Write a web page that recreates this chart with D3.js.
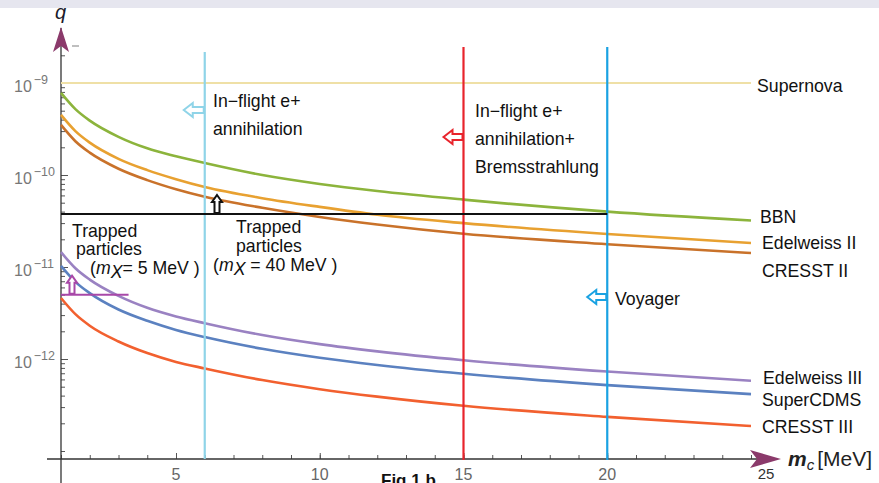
<!DOCTYPE html>
<html>
<head>
<meta charset="utf-8">
<script src="https://cdn.jsdelivr.net/npm/d3@7"></script>
<style>
  body { margin: 0; background: #fff; }
  svg { display: block; }
  text { font-family: "Liberation Sans", Arial, sans-serif; }
</style>
</head>
<body>
<svg id="chart" width="879" height="483"></svg>
<script>
const masses = [1, 1.5, 2, 3, 4, 5, 6, 8, 10, 12, 15, 20, 25];

// q limits per experiment
const bbn         = [7.8e-10, 5.2e-10, 3.9e-10, 2.6e-10, 1.95e-10, 1.6e-10, 1.35e-10, 1.0e-10, 8.0e-11, 6.7e-11, 5.4e-11, 4.0e-11, 3.2e-11];
const edelweiss2  = [4.5e-10, 3.0e-10, 2.25e-10, 1.5e-10, 1.13e-10, 9.0e-11, 7.4e-11, 5.6e-11, 4.5e-11, 3.7e-11, 3.0e-11, 2.28e-11, 1.82e-11];
const cresst2     = [3.5e-10, 2.33e-10, 1.75e-10, 1.17e-10, 8.8e-11, 7.0e-11, 5.8e-11, 4.4e-11, 3.5e-11, 2.9e-11, 2.3e-11, 1.77e-11, 1.42e-11];
const edelweiss3  = [1.45e-11, 9.7e-12, 7.3e-12, 4.85e-12, 3.6e-12, 2.9e-12, 2.45e-12, 1.82e-12, 1.45e-12, 1.21e-12, 9.7e-13, 7.3e-13, 5.8e-13];
const superCDMS   = [1.03e-11, 6.9e-12, 5.2e-12, 3.45e-12, 2.6e-12, 2.07e-12, 1.73e-12, 1.29e-12, 1.03e-12, 8.6e-13, 6.9e-13, 5.2e-13, 4.15e-13];
const cresst3     = [4.6e-12, 3.07e-12, 2.3e-12, 1.55e-12, 1.16e-12, 9.3e-13, 7.9e-13, 5.9e-13, 4.7e-13, 3.9e-13, 3.1e-13, 2.35e-13, 1.87e-13];

// horizontal / vertical constraints
const supernovaQ = 1e-9;
const trapped40Q = 3.77e-11;   // up to m = 20
const trapped40MaxM = 20;
const trapped5Q = 5.0e-12;     // short line
const trapped5MaxM = 3.35;
const inflightM = 6;
const bremsM = 15;
const voyagerM = 20;

// ticks
const xMajorTicks = [5, 10, 15, 20];
const xMinorTicks = d3.range(1, 26);
const yDecades = [-9, -10, -11, -12];

const svg = d3.select("#chart");

// header band
svg.append("rect").attr("x", 0).attr("y", 0).attr("width", 879).attr("height", 8).attr("fill", "#e6e6ef");

const x = d3.scaleLinear().domain([1, 25]).range([61, 751]);
const y = d3.scaleLog().domain([1e-9, 1e-12]).range([83, 359]);
const axisY = 459;
const axisX = x(1);

// ---- axes ----
const yMinor = [];
[-9, -10, -11, -12, -13].forEach(e => {
  for (let k = 1; k < 10; k++) {
    const v = k * Math.pow(10, e);
    if (y(v) > 30 && y(v) < axisY - 2) yMinor.push(v);
  }
});

svg.append("g")
  .attr("transform", `translate(${axisX},0)`)
  .call(d3.axisRight(y).tickValues(yMinor).tickSize(4).tickFormat(""))
  .call(g => g.select(".domain").remove())
  .call(g => g.selectAll("line").attr("stroke", "#555"));
svg.append("g")
  .attr("transform", `translate(${axisX},0)`)
  .call(d3.axisRight(y).tickValues(yDecades.map(e => Math.pow(10, e))).tickSize(7).tickFormat(""))
  .call(g => g.select(".domain").remove())
  .call(g => g.selectAll("line").attr("stroke", "#555"));

svg.append("g")
  .attr("transform", `translate(0,${axisY})`)
  .call(d3.axisTop(x).tickValues(xMinorTicks).tickSize(4).tickFormat(""))
  .call(g => g.select(".domain").remove())
  .call(g => g.selectAll("line").attr("stroke", "#555"));
svg.append("g")
  .attr("transform", `translate(0,${axisY})`)
  .call(d3.axisTop(x).tickValues(xMajorTicks).tickSize(6).tickFormat(""))
  .call(g => g.select(".domain").remove())
  .call(g => g.selectAll("line").attr("stroke", "#555"));

// axis lines
svg.append("line").attr("x1", axisX).attr("x2", axisX).attr("y1", 28).attr("y2", 483)
  .attr("stroke", "#333").attr("stroke-width", 1.3);
svg.append("line").attr("x1", 47).attr("x2", 770).attr("y1", axisY).attr("y2", axisY)
  .attr("stroke", "#333").attr("stroke-width", 1.3);

// x tick labels
svg.append("g").selectAll("text").data(xMajorTicks).join("text")
  .attr("x", d => x(d)).attr("y", 480)
  .attr("text-anchor", "middle").attr("font-size", 16).attr("fill", "#666")
  .text(d => d);
svg.append("text").attr("x", 766).attr("y", 479).attr("text-anchor", "middle")
  .attr("font-family", "Liberation Serif, serif").attr("font-size", 15).attr("fill", "#333")
  .text("25");

// y tick labels
const yl = svg.append("g").selectAll("text").data(yDecades).join("text")
  .attr("x", 14).attr("y", d => y(Math.pow(10, d)) + 9)
  .attr("font-size", 16).attr("fill", "#777");
yl.append("tspan").text("10");
yl.append("tspan").attr("dx", 2).attr("dy", -8).attr("font-size", 12.5).text(d => "\u2212" + (-d));

// axis arrows
svg.append("path").attr("d", `M${axisX},27 L${axisX + 8},52 L${axisX},46 L${axisX - 8},52 Z`).attr("fill", "#8b3a6b");
svg.append("path").attr("d", "M781,459 L750,450 L757,459 L750,468 Z").attr("fill", "#8b3a6b");
svg.append("line").attr("x1", 72).attr("x2", 79).attr("y1", 46).attr("y2", 46).attr("stroke", "#aaa").attr("stroke-width", 1.5);

// axis titles
svg.append("text").attr("x", 55).attr("y", 19)
  .attr("font-family", "Liberation Serif, serif").attr("font-style", "italic").attr("font-size", 20).attr("fill", "#1a1a2a")
  .text("q");
const xt = svg.append("text").attr("x", 788).attr("y", 466)
  .attr("font-family", "Liberation Serif, serif").attr("font-size", 21).attr("fill", "#222");
xt.append("tspan").attr("font-style", "italic").attr("font-weight", "bold").text("m");
xt.append("tspan").attr("font-style", "italic").attr("font-size", 15).attr("dy", 4).text("c");
xt.append("tspan").attr("dy", -4).attr("dx", 3).text("[MeV]");

// ---- constraint lines ----
const line = d3.line().x(d => x(d[0])).y(d => y(d[1])).curve(d3.curveMonotoneX);

svg.append("line").attr("x1", x(1)).attr("x2", x(25)).attr("y1", y(supernovaQ)).attr("y2", y(supernovaQ))
  .attr("stroke", "#efe0a6").attr("stroke-width", 2.2);

const series = [
  { name: "BBN", values: bbn, color: "#8cb43c", ly: 223, lx: 760 },
  { name: "Edelweiss II", values: edelweiss2, color: "#e8a131", ly: 249, lx: 762 },
  { name: "CRESST II", values: cresst2, color: "#c9722a", ly: 277, lx: 762 },
  { name: "Edelweiss III", values: edelweiss3, color: "#9a82c2", ly: 384, lx: 763 },
  { name: "SuperCDMS", values: superCDMS, color: "#5b81c0", ly: 406, lx: 762 },
  { name: "CRESST III", values: cresst3, color: "#f2602f", ly: 433, lx: 762 }
];

svg.append("g").selectAll("path").data(series).join("path")
  .attr("d", s => line(masses.map((m, i) => [m, s.values[i]])))
  .attr("fill", "none").attr("stroke", s => s.color).attr("stroke-width", 2.6);

// vertical bounds
svg.append("line").attr("x1", x(inflightM)).attr("x2", x(inflightM)).attr("y1", 52).attr("y2", axisY)
  .attr("stroke", "#8fd4e8").attr("stroke-width", 2.2);
svg.append("line").attr("x1", x(bremsM)).attr("x2", x(bremsM)).attr("y1", 47).attr("y2", axisY + 1)
  .attr("stroke", "#e8242c").attr("stroke-width", 2.2);
svg.append("line").attr("x1", x(voyagerM)).attr("x2", x(voyagerM)).attr("y1", 47).attr("y2", axisY + 1)
  .attr("stroke", "#1aa2e2").attr("stroke-width", 2.2);

// trapped particle limits
svg.append("line").attr("x1", x(1)).attr("x2", x(trapped40MaxM)).attr("y1", y(trapped40Q)).attr("y2", y(trapped40Q))
  .attr("stroke", "#111").attr("stroke-width", 2);
svg.append("line").attr("x1", x(1)).attr("x2", x(trapped5MaxM)).attr("y1", y(trapped5Q)).attr("y2", y(trapped5Q))
  .attr("stroke", "#a848a8").attr("stroke-width", 2);

// hollow arrows
function leftArrow(tx, ty, len, head, hw, sw) {
  return `M${tx},${ty} L${tx + head},${ty - hw} L${tx + head},${ty - sw} L${tx + len},${ty - sw} ` +
         `L${tx + len},${ty + sw} L${tx + head},${ty + sw} L${tx + head},${ty + hw} Z`;
}
function upArrow(tx, ty, len, head, hw, sw) {
  return `M${tx},${ty} L${tx + hw},${ty + head} L${tx + sw},${ty + head} L${tx + sw},${ty + len} ` +
         `L${tx - sw},${ty + len} L${tx - sw},${ty + head} L${tx - hw},${ty + head} Z`;
}
svg.append("path").attr("d", leftArrow(x(inflightM) - 21, 110, 20, 9, 7, 3))
  .attr("fill", "#fff").attr("stroke", "#8fd4e8").attr("stroke-width", 2);
svg.append("path").attr("d", leftArrow(x(bremsM) - 20, 137, 19, 9, 7, 3))
  .attr("fill", "#fff").attr("stroke", "#e8242c").attr("stroke-width", 2);
svg.append("path").attr("d", leftArrow(x(voyagerM) - 20, 297, 19, 9, 7, 3))
  .attr("fill", "#fff").attr("stroke", "#1aa2e2").attr("stroke-width", 2);
svg.append("path").attr("d", upArrow(217, y(trapped40Q) - 19, 18, 7, 5, 2.5))
  .attr("fill", "#fff").attr("stroke", "#111").attr("stroke-width", 2);
svg.append("path").attr("d", upArrow(72, y(trapped5Q) - 19, 18, 7, 5, 2.5))
  .attr("fill", "#fff").attr("stroke", "#a848a8").attr("stroke-width", 2);

// ---- labels ----
const lab = svg.append("g").attr("font-size", 17.7).attr("fill", "#111");
lab.append("text").attr("x", 757).attr("y", 92).text("Supernova");
lab.selectAll("text.series").data(series).join("text").attr("class", "series")
  .attr("x", s => s.lx).attr("y", s => s.ly).text(s => s.name);

lab.append("text").attr("x", 213).attr("y", 107).text("In\u2212flight e+");
lab.append("text").attr("x", 213).attr("y", 135).text("annihilation");
lab.append("text").attr("x", 475).attr("y", 117).text("In\u2212flight e+");
lab.append("text").attr("x", 475).attr("y", 145).text("annihilation+");
lab.append("text").attr("x", 475).attr("y", 173).text("Bremsstrahlung");
lab.append("text").attr("x", 615).attr("y", 305).text("Voyager");

lab.append("text").attr("x", 72).attr("y", 237).text("Trapped");
lab.append("text").attr("x", 76).attr("y", 255).text("particles");
const t5 = lab.append("text").attr("x", 90).attr("y", 274);
t5.append("tspan").text("(");
t5.append("tspan").attr("font-style", "italic").text("m");
t5.append("tspan").attr("font-style", "italic").attr("dy", 4).text("X");
t5.append("tspan").attr("dy", -4).text("= 5 MeV )");

lab.append("text").attr("x", 236).attr("y", 233).text("Trapped");
lab.append("text").attr("x", 236).attr("y", 252).text("particles");
const t40 = lab.append("text").attr("x", 213).attr("y", 271);
t40.append("tspan").text("(");
t40.append("tspan").attr("font-style", "italic").text("m");
t40.append("tspan").attr("font-style", "italic").attr("dy", 4).text("X");
t40.append("tspan").attr("dy", -4).text(" =  40 MeV )");

svg.append("text").attr("x", 381).attr("y", 486).attr("font-size", 17).attr("font-weight", "bold").attr("fill", "#111")
  .text("Fig 1 b");
</script>
</body>
</html>
